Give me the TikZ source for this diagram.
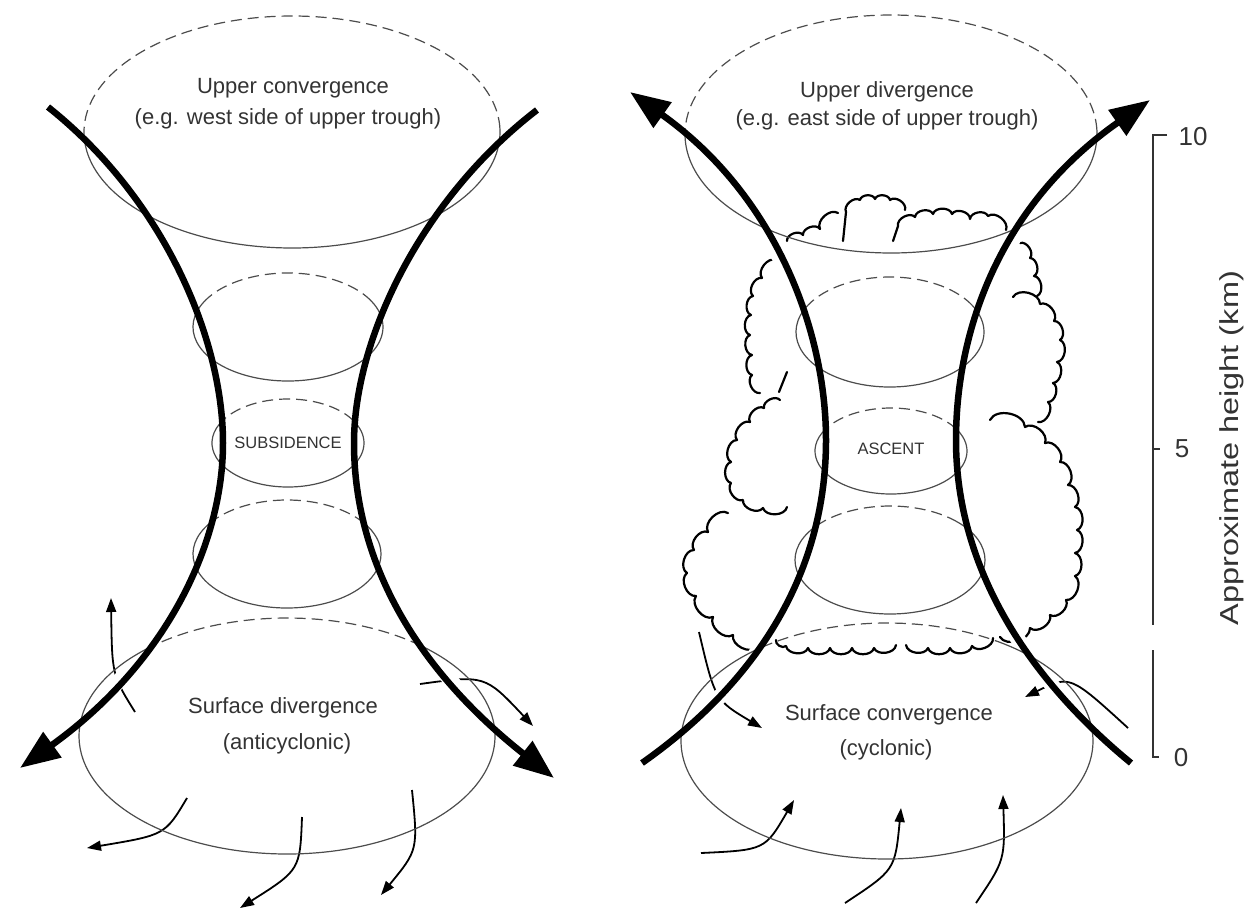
\documentclass[tikz,border=0pt]{standalone}
\usepackage{fontspec}
\setmainfont{Liberation Sans}
\usetikzlibrary{arrows.meta}
\tikzset{
  flow/.style={line width=6.5pt, line cap=butt},
  flowtip/.style={-{Triangle[length=40pt,width=30pt]}},
  halo/.style={draw=white, line width=15pt},
  elldash/.style={draw=black!70, line width=1.2pt, dash pattern=on 11pt off 6pt},
  ellsolid/.style={draw=black!70, line width=1.2pt},
  wind/.style={line width=1.8pt, -{Triangle[length=14pt,width=10pt]}},
  cloudline/.style={line width=2.2pt, line join=round, line cap=round},
  sc/.style={bend left=75},
  lbl/.style={font=\fontsize{22}{26}\selectfont, text=black!80, inner sep=0pt, anchor=base},
  capslbl/.style={font=\fontsize{16.5}{19}\selectfont, text=black!80, inner sep=0pt},
  numlbl/.style={font=\fontsize{26}{30}\selectfont, text=black!80, inner sep=0pt},
  barline/.style={line width=1.5pt, draw=black!80},
}
% split ellipse: cx, cy, rx, ry, half-angle of dashed top part
\newcommand\splitell[5]{%
  \draw[elldash] ({#1+#3*cos(#5)},{#2-#4*sin(#5)}) arc[start angle={-#5}, end angle={-180+#5}, x radius=#3, y radius=#4];
  \draw[ellsolid] ({#1-#3*cos(#5)},{#2-#4*sin(#5)}) arc[start angle={-180+#5}, end angle={-360-#5}, x radius=#3, y radius=#4];
}
\newcommand\curveLL[1]{\draw[#1] (48,107) .. controls (165,200) and (223,340) .. (223,443) .. controls (223,540) and (170,660) .. (20,768);}
\newcommand\curveLR[1]{\draw[#1] (537,110) .. controls (420,200) and (354,340) .. (354,443) .. controls (354,550) and (405,660) .. (554,778);}
\newcommand\curveRL[1]{\draw[#1] (642,763) .. controls (760,680) and (826,570) .. (826,440) .. controls (826,330) and (775,195) .. (630,92);}
\newcommand\curveRR[1]{\draw[#1] (1131,763) .. controls (1030,680) and (956,570) .. (956,440) .. controls (956,330) and (1000,205) .. (1150,100);}
\begin{document}
\begin{tikzpicture}[x=1pt, y=-1pt]
\useasboundingbox (0,0) rectangle (1255,911);

% ---------- thin wind arrows (behind the main flow lines)
\draw[wind] (135,712) .. controls (112,675) .. (111,598);
\draw[wind] (420,684) .. controls (485,675) .. (533,726);
\draw[wind] (187,798) .. controls (165,835) .. (87,848);
\draw[wind] (302,817) .. controls (300,870) .. (240,908);
\draw[wind] (412,790) .. controls (418,850) .. (381,895);
\draw[wind] (699,632) .. controls (715,700) .. (762,728);
\draw[wind] (1128,728) .. controls (1070,675) .. (1025,697);
\draw[wind] (701,853) .. controls (765,850) .. (794,800);
\draw[wind] (845,903) .. controls (895,870) .. (901,808);
\draw[wind] (976,903) .. controls (1005,860) .. (1003,795);

% ---------- cloud outline (right diagram)
\draw[cloudline] (787,241) to[sc] (803,235) to[sc] (820,229) to[sc] (838,213);
\draw[cloudline] (843,241) -- (846,212) to[sc] (860,200) to[sc] (875,199) to[sc] (890,200) to[sc] (905,210);
\draw[cloudline] (893,241) -- (898,226) to[sc] (915,217) to[sc] (933,214) to[sc] (952,214) to[sc] (970,219) to[sc] (988,216) to[sc] (1006,230);
\draw[cloudline] (1020,243) to[sc] (1030,258) to[sc] (1034,276) to[sc] (1037,296);
\draw[cloudline] (1013,297) to[sc] (1040,304) to[sc] (1054,321) to[sc] (1060,340) to[sc] (1057,362) to[sc] (1053,383) to[sc] (1048,402) to[sc] (1038,422);
\draw[cloudline] (990,420) to[sc] (1025,427) to[sc] (1045,443) to[sc] (1060,462) to[sc] (1068,485) to[sc] (1075,507) to[sc] (1077,530) to[sc] (1075,553) to[sc] (1075,576) to[sc] (1066,600) to[sc] (1050,615) to[sc] (1030,628) to[sc] (1000,637);
\draw[cloudline] (993,638) to[sc] (972,646) to[sc] (950,648) to[sc] (928,648) to[sc] (906,645);
\draw[cloudline] (896,645) to[sc] (874,648) to[sc] (852,648) to[sc] (830,648) to[sc] (808,648) to[sc] (786,646) to[sc] (776,640);
\draw[cloudline] (757,647) to[sc] (733,635) to[sc] (713,617) to[sc] (696,596) to[sc] (687,573) to[sc] (694,550) to[sc] (708,532) to[sc] (728,513);
\draw[cloudline] (787,507) to[sc] (763,508) to[sc] (743,500) to[sc] (731,483) to[sc] (731,462) to[sc] (737,440) to[sc] (750,422) to[sc] (764,408) to[sc] (780,400);
\draw[cloudline] (760,393) to[sc] (752,375) to[sc] (752,355) to[sc] (750,335) to[sc] (751,315) to[sc] (753,296) to[sc] (762,278) to[sc] (776,260);
\draw[cloudline] (787,372) -- (779,392);

% ---------- white halos of the main flow lines
\curveLL{halo}
\curveLR{halo}
\curveRL{halo}
\curveRR{halo}

% ---------- ellipses, left diagram
\splitell{292}{132}{208}{116}{2}
\splitell{288}{327}{95}{54}{29}
\splitell{288}{443}{76}{44}{31}
\splitell{287}{554}{94}{54}{35}
\splitell{287}{736}{208}{118}{50}
% ---------- ellipses, right diagram
\splitell{891}{134}{206}{119}{2}
\splitell{890}{332}{94}{55}{29}
\splitell{891}{451}{76}{43}{31}
\splitell{890}{560}{95}{54}{45}
\splitell{887}{741}{206}{118}{55}

% ---------- main flow lines
\curveLL{flow,flowtip}
\curveLR{flow,flowtip}
\curveRL{flow,flowtip}
\curveRR{flow,flowtip}

% ---------- labels
\node[lbl] (uc1) at (293,93) {Upper convergence};
\node[lbl] (uc2) at (288,124) {(e.g. west side of upper trough)};
\node[capslbl] (sub) at (288,443) {SUBSIDENCE};
\node[lbl] (sd1) at (283,713) {Surface divergence};
\node[lbl] (sd2) at (287,749) {(anticyclonic)};
\node[lbl] (ud1) at (887,97) {Upper divergence};
\node[lbl] (ud2) at (887,125) {(e.g. east side of upper trough)};
\node[capslbl] (asc) at (891,449) {ASCENT};
\node[lbl] (sc1) at (889,720) {Surface convergence};
\node[lbl] (sc2) at (886,755) {(cyclonic)};

% ---------- height scale
\coordinate (t10) at (1167,135);
\coordinate (b10) at (1153,135);
\coordinate (b5) at (1153,449);
\coordinate (t5) at (1160,449);
\coordinate (gapa) at (1153,625);
\coordinate (gapb) at (1153,650);
\coordinate (b0) at (1153,757);
\coordinate (t0) at (1159,757);
\draw[barline] (t10) -- (b10) -- (gapa);
\draw[barline] (gapb) -- (b0) -- (t0);
\draw[barline] (b5) -- (t5);
\node[numlbl] (n10) at (1193,137) {10};
\node[numlbl] (n5) at (1182,449) {5};
\node[numlbl] (n0) at (1181,758) {0};
\node[numlbl, rotate=90] (ylab) at (1232,448) {\scalebox{1.25}[1]{Approximate height (km)}};
\end{tikzpicture}
\end{document}
